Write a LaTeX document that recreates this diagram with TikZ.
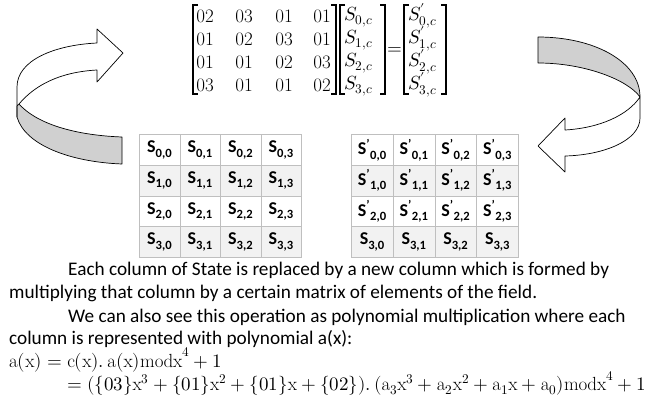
\documentclass[tikz,border=0pt]{standalone}
\usepackage{fontspec}
\usepackage{unicode-math}
\setmathfont{Latin Modern Math}
\newfontfamily\calib{Carlito}
\definecolor{cellborder}{RGB}{191,191,191}
\definecolor{rowgray}{RGB}{242,242,242}
\definecolor{bandgray}{RGB}{208,208,208}
\begin{document}
\begin{tikzpicture}[x=1pt,y=-1pt,
  txt/.style={anchor=base west,inner sep=0pt,font=\calib\fontsize{19.25}{23}\selectfont},
  mth/.style={anchor=base west,inner sep=0pt,font=\fontsize{19}{23}\selectfont},
  ent/.style={anchor=base,inner sep=0pt,font=\fontsize{19}{23}\selectfont},
  vent/.style={anchor=base west,inner sep=0pt,font=\fontsize{19}{23}\selectfont},
  brk/.style={line width=1.3pt},
  cell/.style={draw=cellborder,line width=0.8pt,minimum width=40.5pt,minimum height=30.75pt,inner sep=0pt,anchor=north west,font=\calib\bfseries\fontsize{18}{20}\selectfont},
  cellR/.style={cell,minimum width=41.75pt},
  shade0/.style={fill=white},
  shade1/.style={fill=rowgray},
  band/.style={fill=bandgray,draw=black,line width=0.7pt,line join=round},
  front/.style={fill=white,draw=black,line width=0.7pt,line join=round}]
\useasboundingbox (0,0) rectangle (658,410);

% ---- left curved arrow
\draw[band] (19,104) .. controls (35,122) and (70,135) .. (122,137) -- (122,164)
  .. controls (70,162) and (25,145) .. (17,117) -- (17,106) -- cycle;
\draw[front] (17,117) -- (17,87) .. controls (17,60) and (55,45) .. (97,43) -- (97,29)
  -- (123,53) -- (97,82) -- (97,70) .. controls (60,72) and (35,85) .. (19,104) -- (17,106) -- cycle;

% ---- right curved arrow
\draw[band] (538,37) .. controls (595,37) and (640,62) .. (640,97)
  .. controls (628,80) and (585,63) .. (538,63) -- cycle;
\draw[front] (640,97) -- (640,118) .. controls (640,140) and (605,155) .. (565,156) -- (565,172)
  -- (538,146) -- (565,118) -- (565,130) .. controls (600,128) and (628,115) .. (640,97) -- cycle;

% ---- matrix
\node[ent] (m00) at (205,22) {02}; \node[ent] (m01) at (244,22) {03}; \node[ent] (m02) at (284,22) {01}; \node[ent] (m03) at (322,22) {01};
\node[ent] (m10) at (205,45) {01}; \node[ent] (m11) at (244,45) {02}; \node[ent] (m12) at (284,45) {03}; \node[ent] (m13) at (322,45) {01};
\node[ent] (m20) at (205,68) {01}; \node[ent] (m21) at (244,68) {01}; \node[ent] (m22) at (284,68) {02}; \node[ent] (m23) at (322,68) {03};
\node[ent] (m30) at (205,91) {03}; \node[ent] (m31) at (244,91) {01}; \node[ent] (m32) at (284,91) {01}; \node[ent] (m33) at (322,91) {02};

\foreach \k/\y in {0/20,1/43,2/66,3/89}{
  \node[vent] (s\k) at (344,\y) {$S_{\k,c}$};
  \node[vent] (p\k) at (408,\y) {$S'_{\k,c}$};
}
\node[ent] (eq) at (395,54) {$=$};

% brackets
\draw[brk] (198,5) -- (193,5) -- (193,94) -- (198,94);
\draw[brk] (331,5) -- (336,5) -- (336,94) -- (331,94);
\draw[brk] (345,5) -- (340,5) -- (340,94) -- (345,94);
\draw[brk] (380,5) -- (385,5) -- (385,94) -- (380,94);
\draw[brk] (409,5) -- (404,5) -- (404,94) -- (409,94);
\draw[brk] (441,5) -- (446,5) -- (446,94) -- (441,94);

% ---- state tables
\foreach \r in {0,...,3}{
  \pgfmathtruncatemacro\sh{mod(\r,2)}
  \foreach \c in {0,...,3}{
    \node[cell,shade\sh] (L\r\c) at ({139+40.5*\c},{134+30.75*\r}) {S\textsubscript{\r,\c}};
    \node[cellR,shade\sh] (R\r\c) at ({351+41.75*\c},{134+30.75*\r})
      {\ifnum\r<3 S\textsuperscript{’}\textsubscript{\r,\c}\else S\textsubscript{\r,\c}\fi};
  }
}

% ---- text
\node[txt] (t1) at (68,275) {Each column of State is replaced by a new column which is formed by};
\node[txt] (t2) at (9,298) {multiplying that column by a certain matrix of elements of the field.};
\node[txt] (t3) at (68,322) {We can also see this operation as polynomial multiplication where each};
\node[txt] (t4) at (9,344) {column is represented with polynomial a(x):};
\node[mth] (t5) at (9,367) {$\mathrm{a(x)}=\mathrm{c(x).\,a(x)modx}^{4}+1$};
\node[mth] (t6) at (67,390) {$=(\{03\}\mathrm{x}^{3}+\{01\}\mathrm{x}^{2}+\{01\}\mathrm{x}+\{02\}).\,(\mathrm{a}_{3}\mathrm{x}^{3}+\mathrm{a}_{2}\mathrm{x}^{2}+\mathrm{a}_{1}\mathrm{x}+\mathrm{a}_{0})\mathrm{modx}^{4}+1$};
\end{tikzpicture}
\end{document}
